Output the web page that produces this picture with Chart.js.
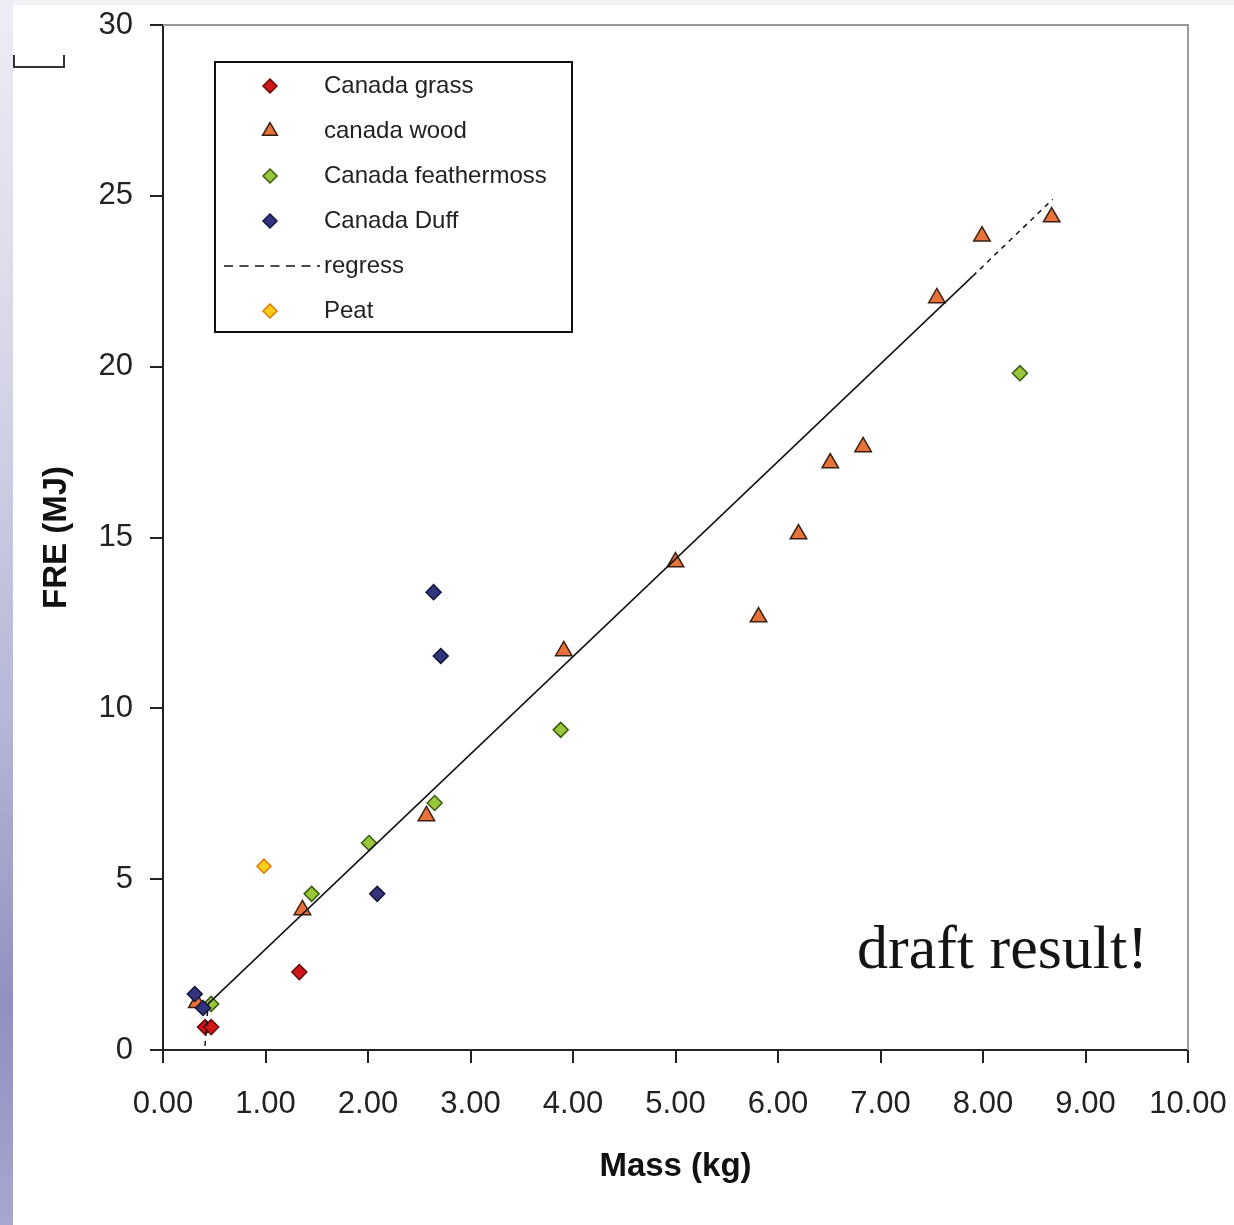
<!DOCTYPE html>
<html>
<head>
<meta charset="utf-8">
<script src="https://cdn.jsdelivr.net/npm/chart.js@4.4.1/dist/chart.umd.min.js"></script>
<style>
  html, body { margin: 0; padding: 0; background: #fff; overflow: hidden; }
  #wrap { position: relative; width: 1234px; height: 1225px; }
  #strip { position: absolute; left: 0; top: 0; width: 13px; height: 1225px;
    background: linear-gradient(to bottom, #ededf5 0%, #d6d6e8 30%, #b4b4d6 60%, #9090c0 82%, #a6a6d0 100%); }
  #band { position: absolute; left: 0; top: 0; width: 1234px; height: 5px; background: #f2f2f6; }
  canvas { position: absolute; left: 0; top: 0; }
</style>
</head>
<body>
<div id="wrap">
  <div id="band"></div>
  <div id="strip"></div>
  <canvas id="c" width="1234" height="1225"></canvas>
</div>
<script>
// FRE vs mass scatter.

const grassX = [1.33, 0.41, 0.47];
const grassY = [2.28, 0.67, 0.67];

const woodX = [0.33, 1.36, 2.57, 3.91, 5.00, 5.81, 6.20, 6.51, 6.83, 7.55, 7.99, 8.67];
const woodY = [1.38, 4.10, 6.85, 11.68, 14.28, 12.67, 15.10, 17.18, 17.65, 22.01, 23.82, 24.38];

const mossX = [0.47, 1.45, 2.01, 2.65, 3.88, 8.36];
const mossY = [1.35, 4.57, 6.06, 7.23, 9.37, 19.81];

const duffX = [0.31, 0.39, 2.09, 2.64, 2.71];
const duffY = [1.64, 1.23, 4.57, 13.40, 11.53];

const regressX = [0.41, 0.44, 7.90, 8.68];
const regressY = [0.12, 1.35, 22.65, 24.90];

const peatX = [0.985];
const peatY = [5.38];

const xTicks = [0, 1, 2, 3, 4, 5, 6, 7, 8, 9, 10];
const yTicks = [0, 5, 10, 15, 20, 25, 30];

const seriesLabels = ['Canada grass', 'canada wood', 'Canada feathermoss', 'Canada Duff', 'regress', 'Peat'];
const noteText = 'draft result!';

const pts = (xs, ys) => xs.map((x, i) => ({ x, y: ys[i] }));

// plot box: left 163, right 1188, top 25, bottom 1050
const BOX = { l: 163, r: 1188, t: 25, b: 1050 };

function marker(ctx, style, x, y, r) {
  ctx.beginPath();
  if (style === 'triangle') {
    for (let k = 0; k < 3; k++) {
      const a = k * 2 * Math.PI / 3;
      const px = x + Math.sin(a) * r, py = y - Math.cos(a) * r;
      if (k === 0) ctx.moveTo(px, py); else ctx.lineTo(px, py);
    }
  } else {
    ctx.moveTo(x, y - r); ctx.lineTo(x + r, y); ctx.lineTo(x, y + r); ctx.lineTo(x - r, y);
  }
  ctx.closePath();
  ctx.fill();
  ctx.stroke();
}

const framePlugin = {
  id: 'frame',
  beforeDatasetsDraw(chart) {
    const { left, right, top, bottom } = chart.chartArea;
    const ctx = chart.ctx;
    ctx.save();
    ctx.strokeStyle = '#9a9a9a';
    ctx.lineWidth = 2;
    ctx.beginPath();
    ctx.moveTo(left, top);
    ctx.lineTo(right, top);
    ctx.lineTo(right, bottom);
    ctx.stroke();
    ctx.restore();
  },
};

const legendPlugin = {
  id: 'boxLegend',
  afterDraw(chart) {
    const ctx = chart.ctx;
    ctx.save();
    ctx.fillStyle = '#fff';
    ctx.fillRect(215, 62, 357, 270);
    ctx.strokeStyle = '#111';
    ctx.lineWidth = 2;
    ctx.strokeRect(215, 62, 357, 270);
    ctx.font = '24px "Liberation Sans", Arial, sans-serif';
    ctx.textBaseline = 'middle';
    ctx.textAlign = 'left';
    const byLabel = {};
    chart.data.datasets.forEach(d => { byLabel[d.label] = d; });
    seriesLabels.forEach((lab, i) => {
      const y = 86 + i * 45;
      const ds = byLabel[lab];
      if (ds.showLine) {
        ctx.strokeStyle = '#111';
        ctx.lineWidth = 1.5;
        ctx.setLineDash([9, 6.5]);
        ctx.beginPath();
        ctx.moveTo(224, y);
        ctx.lineTo(320, y);
        ctx.stroke();
        ctx.setLineDash([]);
      } else {
        ctx.fillStyle = ds.backgroundColor;
        ctx.strokeStyle = ds.borderColor;
        ctx.lineWidth = 1.5;
        marker(ctx, ds.pointStyle, 270, y, ds.pointStyle === 'triangle' ? 8.5 : 7);
      }
      ctx.fillStyle = '#222';
      ctx.fillText(lab, 324, y);
    });
    ctx.restore();
  },
};

const notePlugin = {
  id: 'note',
  afterDraw(chart) {
    const ctx = chart.ctx;
    ctx.save();
    ctx.fillStyle = '#141414';
    ctx.font = '62px "Liberation Serif", "Times New Roman", serif';
    ctx.textBaseline = 'alphabetic';
    ctx.textAlign = 'left';
    ctx.fillText(noteText, 857, 968);
    // stray bracket in the top-left corner of the slide
    ctx.strokeStyle = '#333';
    ctx.lineWidth = 2;
    ctx.beginPath();
    ctx.moveTo(14, 55); ctx.lineTo(14, 67); ctx.lineTo(64, 67); ctx.lineTo(64, 55);
    ctx.stroke();
    ctx.restore();
  },
};

const scatter = (label, xs, ys, style, fill, edge, r, order) => ({
  label, data: pts(xs, ys), pointStyle: style, pointRadius: r,
  backgroundColor: fill, borderColor: edge, pointBorderWidth: 1.5,
  showLine: false, order,
});

const datasets = [
  scatter(seriesLabels[0], grassX, grassY, 'rectRot', '#d0161a', '#6a0a0a', 7.5, 6),
  scatter(seriesLabels[1], woodX, woodY, 'triangle', '#e8733a', '#3a2010', 9.5, 5),
  scatter(seriesLabels[2], mossX, mossY, 'rectRot', '#98c83a', '#3c5a10', 7.5, 4),
  scatter(seriesLabels[3], duffX, duffY, 'rectRot', '#34347e', '#15153a', 7.5, 3),
  {
    label: seriesLabels[4], data: pts(regressX, regressY),
    showLine: true, pointRadius: 0, borderColor: '#111', borderWidth: 1.5,
    segment: { borderDash: c => (c.p0.parsed.x < 0.43 || c.p0.parsed.x > 7.8) ? [5, 5] : [] },
    order: 2,
  },
  scatter(seriesLabels[5], peatX, peatY, 'rectRot', '#ffcc1a', '#e07a00', 7, 1),
];

const tickFont = { family: '"Liberation Sans", Arial, sans-serif', size: 31 };
const titleFont = { family: '"Liberation Sans", Arial, sans-serif', size: 33, weight: 'bold' };

// pin the plot box: drop the label overflow padding Chart.js adds
function noPad(s) {
  s.paddingLeft = 0; s.paddingRight = 0; s.paddingTop = 0; s.paddingBottom = 0;
}

new Chart(document.getElementById('c'), {
  type: 'scatter',
  data: { datasets },
  options: {
    responsive: false, animation: false,
    layout: { padding: { left: 0, top: BOX.t, right: 1234 - BOX.r, bottom: 0 } },
    plugins: { legend: { display: false }, tooltip: { enabled: false } },
    scales: {
      x: {
        type: 'linear', min: 0, max: 10,
        afterFit: s => { s.height = 1225 - BOX.b; noPad(s); },
        afterBuildTicks: s => { s.ticks = xTicks.map(v => ({ value: v })); },
        ticks: { color: '#222', font: tickFont, padding: 23, maxRotation: 0, autoSkip: false,
                 callback: v => Number(v).toFixed(2) },
        grid: { display: true, drawOnChartArea: false, drawTicks: true, tickLength: 13, color: '#222', lineWidth: 2 },
        border: { display: true, color: '#222', width: 2 },
        title: { display: true, text: 'Mass (kg)', color: '#111', font: titleFont, padding: { top: 0, bottom: 38 } },
      },
      y: {
        type: 'linear', min: 0, max: 30,
        afterFit: s => { s.width = BOX.l; noPad(s); },
        afterBuildTicks: s => { s.ticks = yTicks.map(v => ({ value: v })); },
        ticks: { color: '#222', font: tickFont, padding: 17, autoSkip: false },
        grid: { display: true, drawOnChartArea: false, drawTicks: true, tickLength: 13, color: '#222', lineWidth: 2 },
        border: { display: true, color: '#222', width: 2 },
        title: { display: true, text: 'FRE (MJ)', color: '#111', font: titleFont, padding: { top: 37, bottom: 0 } },
      },
    },
  },
  plugins: [framePlugin, legendPlugin, notePlugin],
});
</script>
</body>
</html>
